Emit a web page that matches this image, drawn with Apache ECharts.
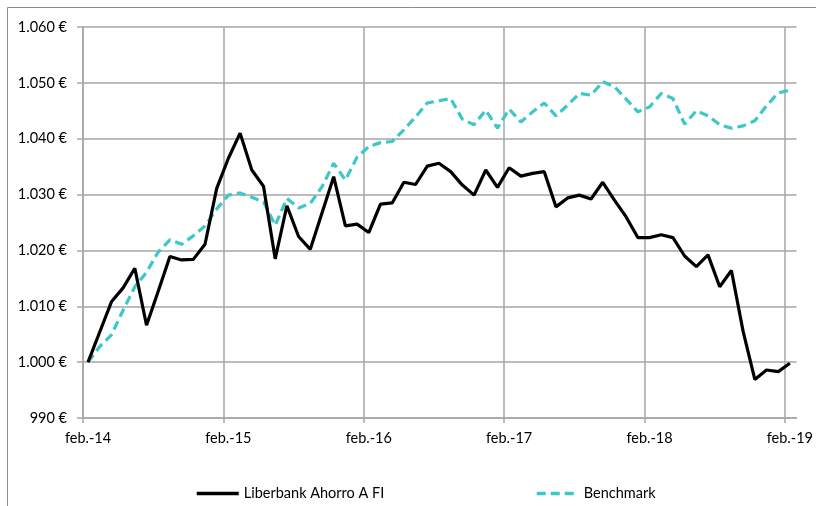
<!DOCTYPE html>
<html>
<head>
<meta charset="utf-8">
<script src="https://cdn.jsdelivr.net/npm/echarts@6/dist/echarts.min.js"></script>
<style>
    html, body { margin: 0; padding: 0; background: #fff; }
    #chart { width: 816px; height: 506px; }
</style>
</head>
<body>
<div id="chart"></div>
<script>
// etiquetas del eje X (una por año, cada 12 meses)
const yearLabels = ['feb.-14', 'feb.-15', 'feb.-16', 'feb.-17', 'feb.-18', 'feb.-19']
// valores mensuales, feb.-14 .. feb.-19
const fundValues = [
    1000.0, 1005.4, 1010.8, 1013.3, 1016.8, 1006.6, 1012.7, 1018.9, 1018.3, 1018.4, 1021.1, 1031.1,
    1036.5, 1041.0, 1034.4, 1031.5, 1018.5, 1028.0, 1022.5, 1020.2, 1026.7, 1033.2, 1024.4, 1024.7,
    1023.2, 1028.3, 1028.5, 1032.2, 1031.8, 1035.1, 1035.6, 1034.1, 1031.7, 1029.9, 1034.4, 1031.3,
    1034.8, 1033.3, 1033.8, 1034.1, 1027.8, 1029.4, 1029.9, 1029.2, 1032.2, 1029.0, 1026.0, 1022.3,
    1022.3, 1022.8, 1022.3, 1019.0, 1017.1, 1019.2, 1013.5, 1016.4, 1005.5, 996.9, 998.6, 998.3,
    999.8
]
const benchmarkValues = [
    1000.0, 1002.8, 1004.9, 1009.3, 1013.5, 1016.1, 1019.7, 1021.9, 1021.1, 1022.6, 1024.4, 1027.4,
    1029.9, 1030.3, 1029.5, 1028.7, 1024.5, 1029.3, 1027.6, 1028.4, 1031.4, 1035.6, 1032.6, 1036.7,
    1038.6, 1039.3, 1039.5, 1041.6, 1043.9, 1046.4, 1046.8, 1047.2, 1043.5, 1042.5, 1045.1, 1041.9,
    1045.3, 1043.0, 1044.8, 1046.4, 1044.1, 1046.0, 1048.1, 1047.8, 1050.2, 1049.3, 1047.1, 1044.8,
    1045.7, 1048.1, 1047.2, 1042.6, 1045.0, 1044.1, 1042.5, 1041.9, 1042.3, 1043.2, 1045.9, 1048.2,
    1048.7
]
const seriesNames = ['Liberbank Ahorro A FI', 'Benchmark']

// los puntos caen a mitad de mes, un poco a la derecha de la marca del eje
const dayOffset = 0.43
const toPoints = arr => arr.map((v, i) => [i + dayOffset, v])

const fontFamily = 'Lato, "Open Sans", sans-serif'
const gridColor = '#a6a6a6'

const chart = echarts.init(document.getElementById('chart'))

// leyenda: solo la línea, sin el círculo del símbolo
const legendBase = {
    top: 481,
    itemWidth: 42,
    itemHeight: 14,
    itemStyle: { opacity: 0 },
    lineStyle: { width: 3.5 },
    textStyle: { color: '#000', fontSize: 14.5, fontFamily: fontFamily },
}

const option = {
    animation: false,
    backgroundColor: '#fff',
    textStyle: { fontFamily: fontFamily },
    // marco exterior del gráfico
    graphic: [
        {
            type: 'rect',
            shape: { x: 7.5, y: 7.5, width: 830, height: 530 },
            style: { fill: 'none', stroke: '#8c8c8c', lineWidth: 1 },
            silent: true,
        },
    ],
    grid: {
        left: 83,
        top: 27,
        right: 16,
        bottom: 88,
        containLabel: false,
    },
    legend: [
        Object.assign({ data: [seriesNames[0]], left: 190 }, legendBase),
        Object.assign({ data: [seriesNames[1]], left: 530 }, legendBase),
    ],
    xAxis: {
        type: 'value',
        min: 0,
        max: 61,
        interval: 12,
        axisLine: { show: true, onZero: false, lineStyle: { color: gridColor, width: 1.5 } },
        axisTick: { show: true, length: 5, lineStyle: { color: gridColor, width: 1.5 } },
        splitLine: { show: true, showMaxLine: false, lineStyle: { color: gridColor, width: 1.5 } },
        axisLabel: {
            color: '#000',
            fontSize: 14.5,
            margin: 13,
            padding: [0, 0, 0, 10],
            showMaxLabel: false,
            formatter: v => (v % 12 === 0 ? yearLabels[v / 12] : ''),
        },
    },
    yAxis: {
        type: 'value',
        min: 990,
        max: 1060,
        interval: 10,
        axisLine: { show: true, lineStyle: { color: gridColor, width: 1.5 } },
        axisTick: { show: true, length: 6, lineStyle: { color: gridColor, width: 1.5 } },
        splitLine: { show: true, lineStyle: { color: gridColor, width: 1.5 } },
        axisLabel: {
            color: '#000',
            fontSize: 14.5,
            margin: 16,
            // separador de miles con punto y símbolo del euro
            formatter: v => {
                const s = String(v)
                return (s.length > 3 ? s.slice(0, -3) + '.' + s.slice(-3) : s) + ' €'
            },
        },
    },
    series: [
        {
            name: seriesNames[0],
            type: 'line',
            data: toPoints(fundValues),
            symbol: 'none',
            lineStyle: { color: '#000', width: 3.2 },
            itemStyle: { color: '#000' },
            z: 3,
        },
        {
            name: seriesNames[1],
            type: 'line',
            data: toPoints(benchmarkValues),
            symbol: 'none',
            lineStyle: { color: '#3cc8c8', width: 3.2, type: [9, 5] },
            itemStyle: { color: '#3cc8c8' },
            z: 2,
        },
    ],
}

chart.setOption(option)
</script>
</body>
</html>
